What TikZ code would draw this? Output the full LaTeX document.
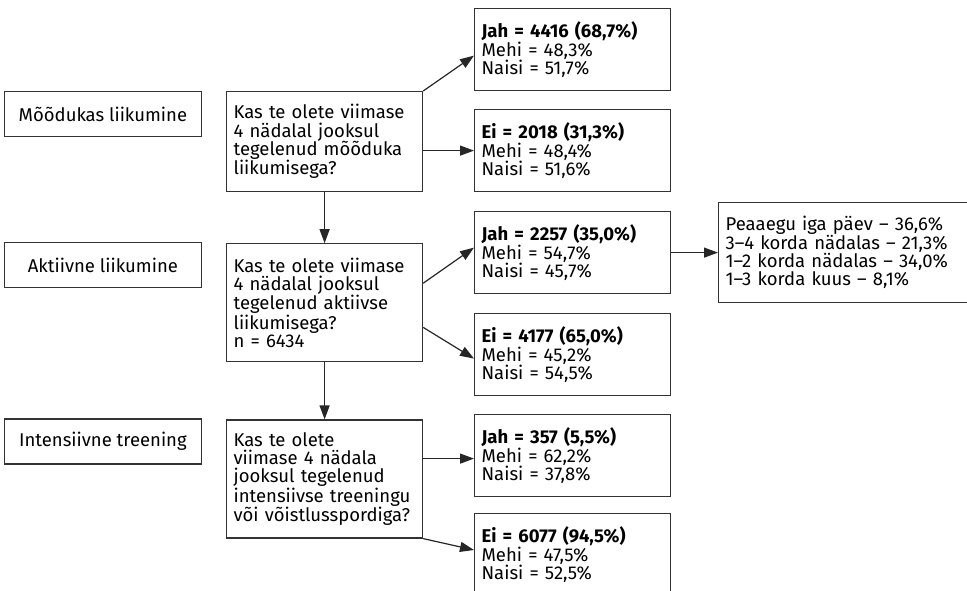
\documentclass[tikz,border=0pt]{standalone}
\usepackage{fontspec}
\setmainfont{Fira Sans}
\usetikzlibrary{arrows.meta,positioning}

\begin{document}
\begin{tikzpicture}[x=1pt,y=-1pt,font=\fontsize{18.5}{18.3}\selectfont,
  lbl/.style={draw=black!80,line width=1.2pt,minimum width=197pt,minimum height=45pt,inner sep=0pt},
  ques/.style={draw=black!80,line width=1.2pt,align=left,text width=182pt,inner xsep=7pt,inner ysep=0pt},
  res/.style={draw=black!80,line width=1.2pt,align=left,text width=182pt,inner xsep=7pt,inner ysep=0pt,minimum height=82pt,anchor=north west},
  arrow/.style={-{Triangle[length=14pt,width=10pt]},line width=1.2pt,black!85}]
\useasboundingbox (0,0) rectangle (967,590);
\clip (0,0) rectangle (967,590);
% questions
\node[ques,minimum height=100pt,anchor=north west] (q1) at (226,91) {Kas te olete viimase\\4 nädalal jooksul\\tegelenud mõõduka\\liikumisega?};
\node[ques,minimum height=118pt,below=51pt of q1] (q2) {Kas te olete viimase\\4 nädalal jooksul\\tegelenud aktiivse\\liikumisega?\\n = 6434};
\node[ques,minimum height=118pt,below=57pt of q2] (q3) {Kas te olete\\viimase 4 nädala\\jooksul tegelenud\\intensiivse treeningu\\või võistlusspordiga?};
% row labels
\node[lbl,anchor=north east] (modlbl) at ([xshift=-24pt]q1.north west) {Mõõdukas liikumine};
\node[lbl,anchor=north east] (aktlbl) at ([xshift=-24pt,yshift=1pt]q2.north west) {Aktiivne liikumine};
\node[lbl,anchor=north east] (intlbl) at ([xshift=-24pt,yshift=1pt]q3.north west) {Intensiivne treening};
% answers
\node[res] (jah1) at (474,8) {\textbf{Jah = 4416 (68,7\%)}\\Mehi = 48,3\%\\Naisi = 51,7\%};
\node[res] (ei1) at (474,109) {\textbf{Ei = 2018 (31,3\%)}\\Mehi = 48,4\%\\Naisi = 51,6\%};
\node[res] (jah2) at (474,211) {\textbf{Jah = 2257 (35,0\%)}\\Mehi = 54,7\%\\Naisi = 45,7\%};
\node[res] (ei2) at (474,313) {\textbf{Ei = 4177 (65,0\%)}\\Mehi = 45,2\%\\Naisi = 54,5\%};
\node[res] (jah3) at (474,414) {\textbf{Jah = 357 (5,5\%)}\\Mehi = 62,2\%\\Naisi = 37,8\%};
\node[res] (ei3) at (474,513) {\textbf{Ei = 6077 (94,5\%)}\\Mehi = 47,5\%\\Naisi = 52,5\%};
\node[res,text width=260pt,inner xsep=7pt,minimum height=100pt] (freq) at (718,202) {Peaaegu iga päev -- 36,6\%\\3--4 korda nädalas -- 21,3\%\\1--2 korda nädalas -- 34,0\%\\1--3 korda kuus -- 8,1\%};
% connectors
\draw[arrow] (q1.north east) -- ([yshift=-6pt]jah1.west);
\draw[arrow] (q1.east |- ei1.west) -- (ei1.west);
\draw[arrow] (q1) -- (q2);
\draw[arrow] ([yshift=-40pt]q2.north east) -- ([yshift=5pt]jah2.west);
\draw[arrow] ([yshift=35pt]q2.south east) -- ([yshift=-4pt]ei2.west);
\draw[arrow] (jah2.east) -- (freq.west);
\draw[arrow] (q2) -- (q3);
\draw[arrow] ([yshift=-3pt]q3.east |- jah3.west) -- ([yshift=-3pt]jah3.west);
\draw[arrow] (q3.south east) -- ([yshift=-37pt]ei3.north west);
\end{tikzpicture}
\end{document}
